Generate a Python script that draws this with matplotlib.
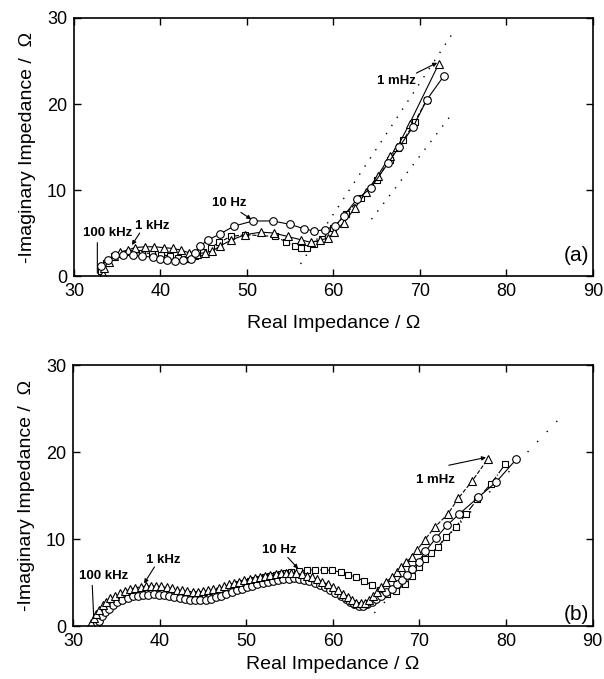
import matplotlib
matplotlib.use("Agg")
import matplotlib.pyplot as plt

plt.rcParams['font.family'] = ['Liberation Sans', 'DejaVu Sans']

# ---- panel (a) data ----
cir_a_x = [33.1, 33.9, 34.8, 35.7, 36.8, 37.9, 39.1, 40.0, 40.8, 41.7, 42.6, 43.5, 44.0, 44.6,
           45.5, 46.9, 48.5, 50.7, 53.0, 55.0, 56.6, 57.8, 59.0, 60.2, 61.2, 62.7, 64.3, 66.3,
           67.6, 69.2, 70.8, 72.8]
cir_a_y = [1.2, 1.9, 2.5, 2.4, 2.4, 2.3, 2.2, 2.0, 1.85, 1.8, 1.85, 2.0, 2.7, 3.5,
           4.2, 4.9, 5.8, 6.4, 6.4, 6.0, 5.5, 5.2, 5.4, 5.8, 7.0, 8.9, 10.2, 13.1,
           15.0, 17.3, 20.5, 23.3]

tri_a_x = [33.3, 33.5, 34.0, 34.6, 35.3, 36.2, 37.0, 38.2, 39.3, 40.4, 41.5, 42.4, 43.3, 44.2,
           45.1, 46.0, 46.9, 48.2, 49.8, 51.6, 53.1, 54.7, 56.3, 57.4, 58.5, 59.4, 60.1, 61.2,
           62.5, 63.8, 65.1, 66.5, 67.4, 68.8, 72.2]
tri_a_y = [0.2, 0.9, 1.6, 2.3, 2.8, 3.0, 3.3, 3.4, 3.4, 3.3, 3.2, 3.0, 2.7, 2.6,
           2.7, 2.9, 3.5, 4.2, 4.8, 5.1, 5.0, 4.6, 4.2, 3.9, 4.2, 4.4, 5.1, 6.2,
           7.9, 9.8, 11.6, 13.9, 15.0, 17.7, 24.7]

sq_a_x = [33.1, 33.7, 34.6, 35.6, 36.8, 37.9, 39.0, 40.1, 41.1, 42.0, 43.1, 44.0, 44.9, 45.8,
          46.8, 48.1, 49.8, 53.2, 54.5, 55.6, 56.3, 56.9, 57.7, 58.7, 60.0, 61.4, 63.2, 65.0,
          66.5, 68.1, 69.4, 70.8]
sq_a_y = [0.6, 1.5, 2.3, 2.6, 2.7, 2.7, 2.6, 2.5, 2.3, 2.1, 2.0, 2.3, 2.8, 3.3,
          3.9, 4.6, 4.8, 4.6, 4.0, 3.5, 3.3, 3.3, 3.7, 4.3, 5.6, 7.2, 9.1, 11.2,
          13.5, 15.8, 17.9, 20.5]

fit_a1_x = [56.2, 74.1]
fit_a1_y = [1.4, 28.7]
fit_a2_x = [64.4, 73.6]
fit_a2_y = [6.6, 18.7]

# ---- panel (b) data ----
tri_b_x = [32.1, 32.4, 32.7, 33.0, 33.4, 33.8, 34.3, 34.8, 35.4, 36.0, 36.6, 37.2, 37.8, 38.4,
           39.0, 39.6, 40.2, 40.8, 41.4, 42.0, 42.6, 43.2, 43.8, 44.4, 45.0, 45.6, 46.2, 46.8,
           47.4, 48.0, 48.6, 49.2, 49.8, 50.4, 51.0, 51.6, 52.2, 52.8, 53.4, 54.0, 54.6, 55.2,
           55.8, 56.4, 57.0, 57.6, 58.2, 58.8, 59.4, 60.0, 60.6, 61.2, 61.7, 62.2, 62.7, 63.2,
           63.7, 64.2, 64.7, 65.1, 65.6, 66.2, 66.8, 67.4, 67.9, 68.5, 69.1, 69.7, 70.6, 71.8,
           73.3, 74.5, 76.1, 77.9]
tri_b_y = [0.3, 0.9, 1.4, 1.9, 2.4, 2.8, 3.2, 3.5, 3.8, 4.05, 4.25, 4.4, 4.5, 4.6,
           4.6, 4.6, 4.55, 4.45, 4.35, 4.2, 4.1, 4.0, 3.95, 3.95, 4.0, 4.1, 4.25, 4.4,
           4.6, 4.8, 4.95, 5.1, 5.25, 5.4, 5.55, 5.65, 5.8, 5.9, 6.0, 6.05, 6.1, 6.1,
           6.05, 5.95, 5.8, 5.6, 5.4, 5.1, 4.8, 4.5, 4.1, 3.7, 3.3, 3.0, 2.7, 2.6,
           2.7, 3.0, 3.4, 3.9, 4.5, 5.1, 5.6, 6.2, 6.8, 7.4, 7.9, 8.7, 9.9, 11.4,
           12.9, 14.7, 16.7, 19.2]

cir_b_x = [32.7, 33.0, 33.3, 33.7, 34.1, 34.6, 35.1, 35.7, 36.3, 36.9, 37.5, 38.1, 38.7, 39.3,
           39.9, 40.5, 41.1, 41.7, 42.3, 42.9, 43.5, 44.1, 44.7, 45.3, 45.9, 46.5, 47.1, 47.7,
           48.3, 48.9, 49.5, 50.1, 50.7, 51.3, 51.9, 52.5, 53.1, 53.7, 54.3, 54.9, 55.5, 56.1,
           56.7, 57.3, 57.9, 58.5, 59.1, 59.7, 60.3, 60.9, 61.5, 62.0, 62.5, 63.0, 63.5, 64.0,
           64.5, 65.0, 65.6, 66.2, 66.8, 67.4, 68.0, 68.6, 69.2, 69.9, 70.7, 71.9, 73.2, 74.6,
           76.8, 78.9, 81.2]
cir_b_y = [0.1, 0.6, 1.1, 1.6, 2.0, 2.4, 2.75, 3.0, 3.25, 3.4, 3.5, 3.6, 3.6, 3.65,
           3.6, 3.55, 3.45, 3.35, 3.2, 3.1, 3.0, 2.95, 2.95, 3.0, 3.15, 3.3, 3.5, 3.7,
           3.9, 4.1, 4.3, 4.5, 4.65, 4.8, 4.95, 5.1, 5.2, 5.3, 5.4, 5.45, 5.5, 5.45,
           5.35, 5.2, 5.0, 4.75, 4.5, 4.2, 3.85, 3.5, 3.1, 2.8, 2.5, 2.35, 2.35, 2.5,
           2.8, 3.1, 3.5, 3.9, 4.3, 4.8, 5.3, 5.9, 6.6, 7.4, 8.6, 10.1, 11.6, 12.9,
           14.8, 16.6, 19.2]

sq_b_x = [32.4, 32.7, 33.0, 33.4, 33.8, 34.3, 34.8, 35.4, 36.0, 36.6, 37.2, 37.8, 38.4, 39.0,
          39.6, 40.2, 40.8, 41.4, 42.0, 42.6, 43.2, 43.8, 44.4, 45.0, 45.6, 46.2, 46.8, 47.4,
          48.0, 48.6, 49.2, 49.8, 50.4, 51.0, 51.6, 52.2, 52.8, 53.4, 54.0, 54.6, 55.2, 56.1,
          57.0, 58.0, 59.0, 59.9, 60.9, 61.8, 62.7, 63.6, 64.5, 65.4, 66.3, 67.3, 68.3, 69.2,
          70.0, 70.7, 71.4, 72.1, 73.1, 74.2, 75.4, 76.7, 78.3, 79.9]
sq_b_y = [0.0, 0.6, 1.1, 1.6, 2.1, 2.5, 2.9, 3.2, 3.5, 3.7, 3.85, 3.95, 4.05, 4.1,
          4.1, 4.05, 3.95, 3.85, 3.7, 3.55, 3.45, 3.4, 3.4, 3.45, 3.6, 3.8, 4.0, 4.2,
          4.4, 4.6, 4.8, 5.0, 5.15, 5.3, 5.45, 5.6, 5.7, 5.85, 5.95, 6.05, 6.2, 6.35,
          6.45, 6.45, 6.45, 6.4, 6.2, 5.9, 5.6, 5.2, 4.7, 4.1, 3.7, 4.0, 4.8, 5.8,
          6.8, 7.7, 8.4, 9.1, 10.2, 11.4, 12.9, 14.6, 16.4, 18.6]

fit_b_x = [64.8, 86.5]
fit_b_y = [1.5, 24.2]

fig = plt.figure(figsize=(6.04, 6.79), dpi=100)
ax_a = fig.add_axes([0.1225, 0.5935, 0.859, 0.380])
ax_b = fig.add_axes([0.1210, 0.0780, 0.860, 0.384])

mk = dict(color='black', markerfacecolor='white', markeredgecolor='black',
          markeredgewidth=0.8, linewidth=0.8)

# panel (a)
ax_a.plot(fit_a1_x, fit_a1_y, color='black', linewidth=1.0, linestyle=(0, (1, 6)))
ax_a.plot(fit_a2_x, fit_a2_y, color='black', linewidth=1.0, linestyle=(0, (1, 6)))
ax_a.plot(sq_a_x, sq_a_y, marker='s', markersize=5, linestyle='--', **mk)
ax_a.plot(tri_a_x, tri_a_y, marker='^', markersize=5.5, linestyle='-', **mk)
ax_a.plot(cir_a_x, cir_a_y, marker='o', markersize=5.5, linestyle='-', **mk)

# panel (b)
ax_b.plot(fit_b_x, fit_b_y, color='black', linewidth=1.0, linestyle=(0, (1, 9)))
ax_b.plot(sq_b_x, sq_b_y, marker='s', markersize=5, linestyle='-.', **mk)
ax_b.plot(cir_b_x, cir_b_y, marker='o', markersize=5.5, linestyle='-', **mk)
ax_b.plot(tri_b_x, tri_b_y, marker='^', markersize=5.5, linestyle='--', **mk)

ann = dict(fontsize=9.5, fontweight='bold')
arr = dict(arrowstyle='-|>', color='black', linewidth=0.8, mutation_scale=6, shrinkA=0, shrinkB=0)

ax_a.text(31.0, 5.0, '100 kHz', ha='left', va='center', **ann)
ax_a.annotate('', xy=(32.7, 0.0), xytext=(32.7, 4.2), arrowprops=dict(arrowstyle='-', color='black', linewidth=0.8))
ax_a.text(37.1, 5.8, '1 kHz', ha='left', va='center', **ann)
ax_a.annotate('', xy=(36.7, 3.6), xytext=(37.6, 5.0), arrowprops=arr)
ax_a.text(46.0, 8.5, '10 Hz', ha='left', va='center', **ann)
ax_a.annotate('', xy=(50.5, 6.6), xytext=(49.3, 7.4), arrowprops=arr)
ax_a.text(65.0, 22.7, '1 mHz', ha='left', va='center', **ann)
ax_a.annotate('', xy=(72.0, 24.8), xytext=(69.6, 23.6), arrowprops=arr)
ax_a.text(89.6, 2.4, '(a)', ha='right', va='center', fontsize=15)

ax_b.text(30.7, 5.7, '100 kHz', ha='left', va='center', **ann)
ax_b.annotate('', xy=(32.4, 0.6), xytext=(32.2, 5.0), arrowprops=dict(arrowstyle='-', color='black', linewidth=0.8))
ax_b.text(38.4, 7.6, '1 kHz', ha='left', va='center', **ann)
ax_b.annotate('', xy=(38.2, 4.9), xytext=(39.4, 6.8), arrowprops=arr)
ax_b.text(51.8, 8.7, '10 Hz', ha='left', va='center', **ann)
ax_b.annotate('', xy=(56.0, 6.6), xytext=(54.8, 7.9), arrowprops=arr)
ax_b.text(69.6, 16.8, '1 mHz', ha='left', va='center', **ann)
ax_b.annotate('', xy=(77.7, 19.4), xytext=(73.4, 18.5), arrowprops=arr)
ax_b.text(89.6, 1.3, '(b)', ha='right', va='center', fontsize=15)

for ax, lpad in ((ax_a, 11), (ax_b, 4)):
    ax.set_xlim(30, 90)
    ax.set_ylim(0, 30)
    ax.set_xticks([30, 40, 50, 60, 70, 80, 90])
    ax.set_yticks([0, 10, 20, 30])
    ax.tick_params(direction='in', length=5, width=1, top=True, right=True,
                   labelsize=13)
    ax.tick_params(axis='x', pad=5)
    ax.tick_params(axis='y', pad=5)
    for s in ax.spines.values():
        s.set_linewidth(1.2)
    ax.set_xlabel('Real Impedance / \u03a9', fontsize=14, labelpad=lpad)
    ax.set_ylabel('-Imaginary Impedance /  \u03a9', fontsize=14, labelpad=8)

fig.savefig('out.png', dpi=100)
